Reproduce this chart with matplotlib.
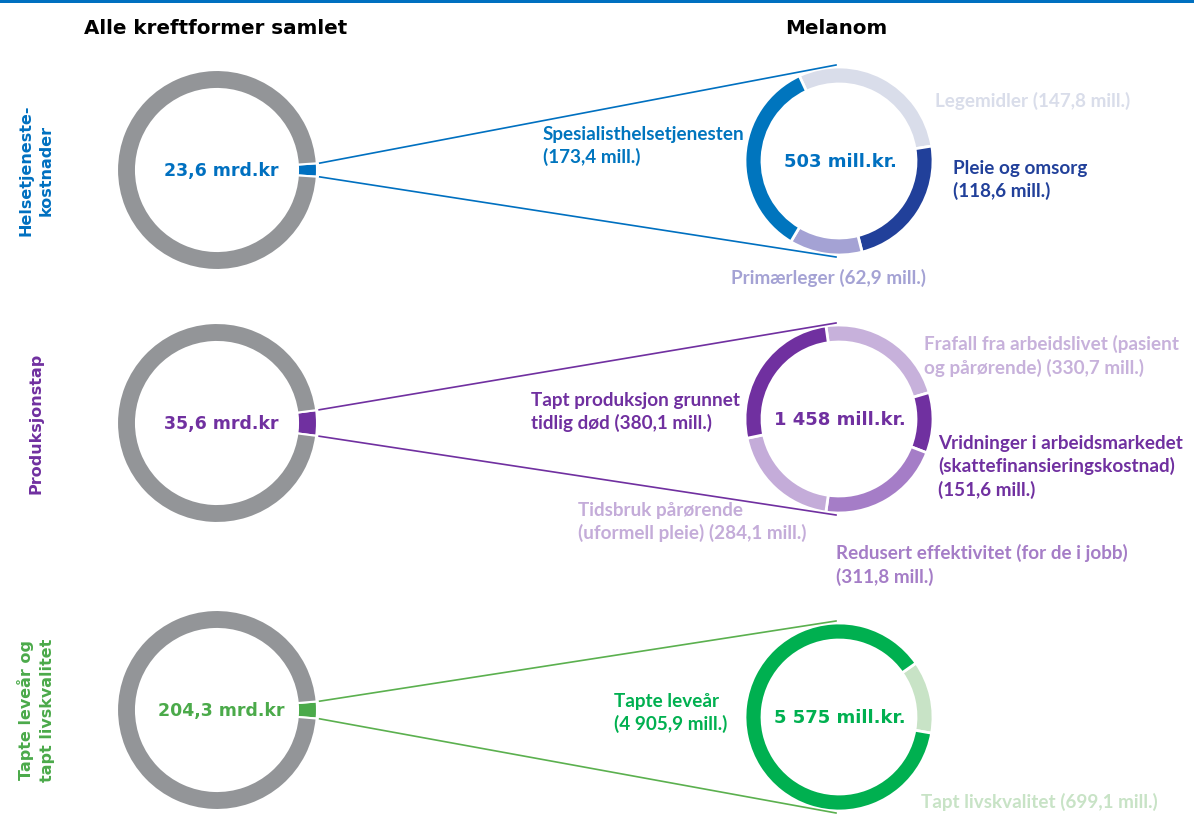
import matplotlib.pyplot as plt
import numpy as np

W, H = 1194, 837
plt.rcParams['font.family'] = ['Lato', 'DejaVu Sans']

# Alle kreftformer samlet vs. melanom (mill. kr)
totaler = [23600, 35600, 204300]
totaltekst = ['23,6 mrd.kr', '35,6 mrd.kr', '204,3 mrd.kr']
melanom = [503, 1458, 5575]
melanomtekst = ['503 mill.kr.', '1 458 mill.kr.', '5 575 mill.kr.']
kategorier = ['Helsetjeneste-\nkostnader', 'Produksjonstap', 'Tapte leveår og\ntapt livskvalitet']
farger = ['#0070C0', '#7030A0', '#4BAA4A']
linjefarger = ['#0070C0', '#7030A0', '#5BB04F']
senterfarger = ['#0070C0', '#7030A0', '#00B050']

# delkomponenter melanom
helse_navn = ['Legemidler (147,8 mill.)', 'Pleie og omsorg\n(118,6 mill.)',
              'Primærleger (62,9 mill.)', 'Spesialisthelsetjenesten\n(173,4 mill.)']
helse_verdi = [147.8, 118.6, 62.9, 173.4]
helse_farge = ['#D9DDEA', '#21409A', '#A4A2D4', '#0075BE']

prod_navn = ['Frafall fra arbeidslivet (pasient\nog pårørende) (330,7 mill.)',
             'Vridninger i arbeidsmarkedet\n(skattefinansieringskostnad)\n(151,6 mill.)',
             'Redusert effektivitet (for de i jobb)\n(311,8 mill.)',
             'Tidsbruk pårørende\n(uformell pleie) (284,1 mill.)',
             'Tapt produksjon grunnet\ntidlig død (380,1 mill.)']
prod_verdi = [330.7, 151.6, 311.8, 284.1, 380.1]
prod_farge = ['#C7B1DB', '#7030A0', '#A57DC7', '#C4ACD9', '#7030A0']

liv_navn = ['Tapt livskvalitet (699,1 mill.)', 'Tapte leveår\n(4 905,9 mill.)']
liv_verdi = [699.1, 4905.9]
liv_farge = ['#C8E3C6', '#00B050']

deler = [(helse_navn, helse_verdi, helse_farge, 115),
         (prod_navn, prod_verdi, prod_farge, 98),
         (liv_navn, liv_verdi, liv_farge, 35)]

# plassering av etiketter (bildepiksler)
etikett_pos = [
    [(935, 101), (953, 180), (731, 278), (543, 146)],
    [(924, 356), (938, 467), (836, 565), (578, 522), (531, 412)],
    [(921, 802), (614, 713)],
]

rad_y = [171, 424, 711]
hoyre_y = [162, 420, 718]
vx, hx = 217, 839
vr, hr = 100, 94

bred = 'DejaVu Sans'


def Y(y):
    return H - y


fig = plt.figure(figsize=(W / 100, H / 100), dpi=100)
ax = fig.add_axes([0, 0, 1, 1])

for i in range(3):
    # venstre: alle kreftformer, melanom-andel som utsnitt
    andel = melanom[i] / totaler[i]
    ax.pie([melanom[i], totaler[i] - melanom[i]], colors=[farger[i], '#939598'],
           center=(vx, Y(rad_y[i])), radius=vr, startangle=andel * 180,
           counterclock=False,
           wedgeprops=dict(width=19, edgecolor='white', linewidth=1.5))
    ax.text(vx + 4, Y(rad_y[i]), totaltekst[i], color=farger[i], fontsize=12.5,
            fontweight='bold', family=bred, ha='center', va='center')

    # høyre: melanom fordelt
    navn, verdi, farge, start = deler[i]
    ax.pie(verdi, colors=farge, center=(hx, Y(hoyre_y[i])), radius=hr,
           startangle=start, counterclock=False,
           wedgeprops=dict(width=17, edgecolor='white', linewidth=2))
    ax.text(hx + 1, Y(hoyre_y[i]), melanomtekst[i], color=senterfarger[i],
            fontsize=13, fontweight='bold', family=bred, ha='center', va='center')
    for tekst, f, (px, py) in zip(navn, farge, etikett_pos[i]):
        ax.text(px, Y(py), tekst, color=f, fontsize=13.6, fontweight='bold',
                ha='left', va='center', linespacing=1.38)

    # zoom-linjer
    a = np.deg2rad(andel * 180)
    for s in (1, -1):
        x0 = vx + (vr + 3) * np.cos(a)
        y0 = Y(rad_y[i]) + s * (vr + 3) * np.sin(a)
        ax.plot([x0, hx - 3], [y0, Y(hoyre_y[i]) + s * (hr + 2)],
                color=linjefarger[i], lw=1.2)

    ax.text(36, Y(rad_y[i] - 1), kategorier[i], color=farger[i], fontsize=11.5,
            fontweight='bold', family=bred, rotation=90, ha='center', va='center',
            linespacing=1.45)

ax.text(216, Y(28), 'Alle kreftformer samlet', fontsize=14.3, fontweight='bold',
        family=bred, ha='center', va='center', color='black')
ax.text(836, Y(28), 'Melanom', fontsize=14.3, fontweight='bold',
        family=bred, ha='center', va='center', color='black')

ax.axhspan(Y(4), H, color='#0070C0', lw=0)
ax.set_xlim(0, W)
ax.set_ylim(0, H)
ax.axis('off')

fig.savefig('out.png', dpi=100, facecolor='white')
